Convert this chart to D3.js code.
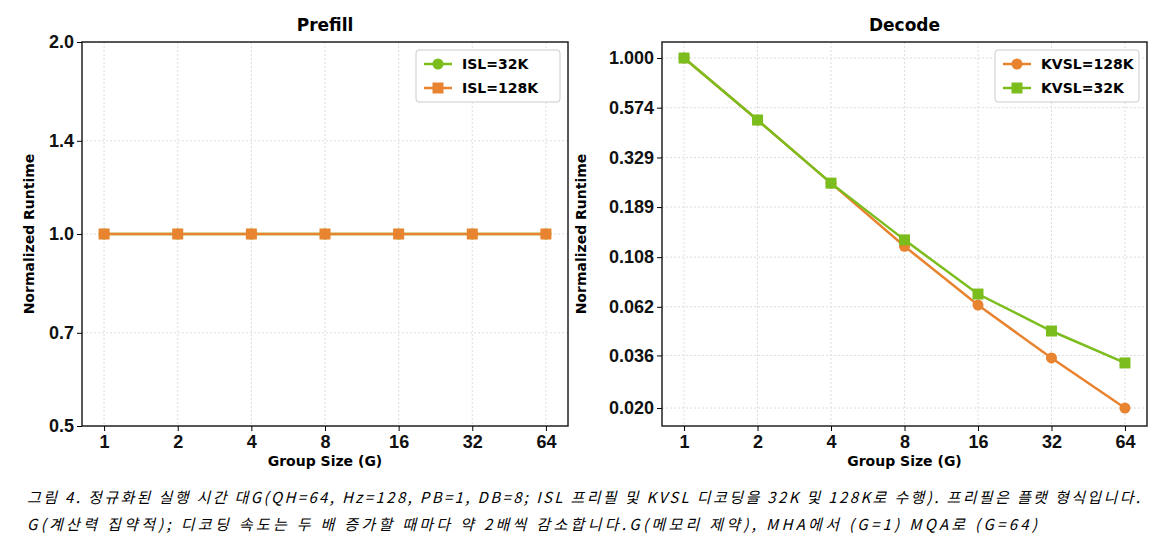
<!DOCTYPE html>
<html><head><meta charset="utf-8">
<script src="https://cdn.jsdelivr.net/npm/d3@7"></script>
<style>body{margin:0;background:#fff}svg{font-family:"DejaVu Sans",sans-serif}</style>
</head><body><svg id="viz" width="1167" height="545"></svg>
<script>
var groups = ['1', '2', '4', '8', '16', '32', '64'];
var prefill32 = [1, 1, 1, 1, 1, 1, 1];
var prefill128 = [1, 1, 1, 1, 1, 1, 1];
var decode128 = [1.0, 0.50, 0.247, 0.122, 0.0632, 0.035, 0.020];
var decode32 = [1.0, 0.50, 0.247, 0.131, 0.0715, 0.0473, 0.0331];
var prefillTicks = [0.5, 0.7, 1.0, 1.4, 2.0];
var decodeTicks = [0.020, 0.036, 0.062, 0.108, 0.189, 0.329, 0.574, 1.000];
var green = '#7cbd1e', orange = '#e8832f';

var svg = d3.select('#viz');

function panel(x0, x1, labelX, title, domain, ticks, fmt, series) {
	var top = 42, bottom = 426;
	var x = d3.scalePoint().domain(groups).range([x0, x1]).padding(0.3);
	var y = d3.scaleLog().domain(domain).range([bottom, top]);
	var g = svg.append('g');
	g.selectAll('line.gy').data(ticks).enter().append('line')
		.attr('x1', x0).attr('x2', x1).attr('y1', y).attr('y2', y)
		.attr('stroke', '#ddd').attr('stroke-dasharray', '2,2');
	g.selectAll('line.gx').data(groups).enter().append('line')
		.attr('y1', top).attr('y2', bottom).attr('x1', x).attr('x2', x)
		.attr('stroke', '#ddd').attr('stroke-dasharray', '2,2');
	g.append('rect').attr('x', x0).attr('y', top).attr('width', x1 - x0).attr('height', bottom - top)
		.attr('fill', 'none').attr('stroke', '#222').attr('stroke-width', 1.5);
	var ya = g.append('g').attr('transform', 'translate(' + x0 + ',0)')
		.call(d3.axisLeft(y).tickValues(ticks).tickFormat(fmt).tickSize(5));
	var xa = g.append('g').attr('transform', 'translate(0,' + bottom + ')')
		.call(d3.axisBottom(x).tickSize(5));
	[ya, xa].forEach(function (a) {
		a.select('.domain').remove();
		a.selectAll('text').attr('font-size', 18).attr('font-weight', 'bold').attr('fill', '#111');
	});
	xa.selectAll('text').attr('dy', '0.75em');
	g.append('text').attr('x', (x0 + x1) / 2).attr('y', 31).attr('text-anchor', 'middle')
		.attr('font-size', 17).attr('font-weight', 'bold').text(title);
	g.append('text').attr('x', (x0 + x1) / 2).attr('y', 466).attr('text-anchor', 'middle')
		.attr('font-size', 14).attr('font-weight', 'bold').text('Group Size (G)');
	g.append('text').attr('transform', 'translate(' + labelX + ',' + (top + bottom) / 2 + ') rotate(-90)')
		.attr('text-anchor', 'middle').attr('font-size', 14).attr('font-weight', 'bold').text('Normalized Runtime');
	var line = d3.line().x(function (d, i) { return x(groups[i]); }).y(function (d) { return y(d); });
	series.forEach(function (s) {
		g.append('path').datum(s.values).attr('d', line).attr('fill', 'none')
			.attr('stroke', s.color).attr('stroke-width', 2.5);
		s.values.forEach(function (v, i) {
			if (s.shape === 'circle') {
				g.append('circle').attr('cx', x(groups[i])).attr('cy', y(v)).attr('r', 5.5).attr('fill', s.color);
			} else {
				g.append('rect').attr('x', x(groups[i]) - 5.5).attr('y', y(v) - 5.5)
					.attr('width', 11).attr('height', 11).attr('fill', s.color);
			}
		});
	});
	var lx = x1 - 152, ly = 50;
	g.append('rect').attr('x', lx).attr('y', ly).attr('width', 144).attr('height', 52).attr('rx', 3)
		.attr('fill', '#fff').attr('stroke', '#ccc');
	series.forEach(function (s, i) {
		var yy = ly + 14 + i * 24;
		g.append('line').attr('x1', lx + 8).attr('x2', lx + 36).attr('y1', yy).attr('y2', yy)
			.attr('stroke', s.color).attr('stroke-width', 2.5);
		if (s.shape === 'circle') g.append('circle').attr('cx', lx + 22).attr('cy', yy).attr('r', 5.5).attr('fill', s.color);
		else g.append('rect').attr('x', lx + 16.5).attr('y', yy - 5.5).attr('width', 11).attr('height', 11).attr('fill', s.color);
		g.append('text').attr('x', lx + 46).attr('y', yy + 5).attr('font-size', 14).attr('font-weight', 'bold').text(s.name);
	});
}

panel(82, 568, 34, 'Prefill', [0.5, 2.0], prefillTicks, d3.format('.1f'), [
	{ name: 'ISL=32K', values: prefill32, color: green, shape: 'circle' },
	{ name: 'ISL=128K', values: prefill128, color: orange, shape: 'square' }
]);
panel(662, 1147, 586, 'Decode', [0.01636, 1.196], decodeTicks, d3.format('.3f'), [
	{ name: 'KVSL=128K', values: decode128, color: orange, shape: 'circle' },
	{ name: 'KVSL=32K', values: decode32, color: green, shape: 'square' }
]);

svg.append('text').attr('x', 27).attr('y', 503).attr('font-size', 15).attr('textLength', 1113)
	.attr('font-style', 'italic').attr('font-family', '"Noto Sans CJK KR"')
	.text('그림 4. 정규화된 실행 시간 대G(QH=64, Hz=128, PB=1, DB=8; ISL 프리필 및 KVSL 디코딩을 32K 및 128K로 수행). 프리필은 플랫 형식입니다.');
svg.append('text').attr('x', 27).attr('y', 530).attr('font-size', 15).attr('textLength', 1010)
	.attr('font-style', 'italic').attr('font-family', '"Noto Sans CJK KR"')
	.text('G(계산력 집약적); 디코딩 속도는 두 배 증가할 때마다 약 2배씩 감소합니다.G(메모리 제약), MHA에서 (G=1) MQA로 (G=64)');
</script></body></html>
